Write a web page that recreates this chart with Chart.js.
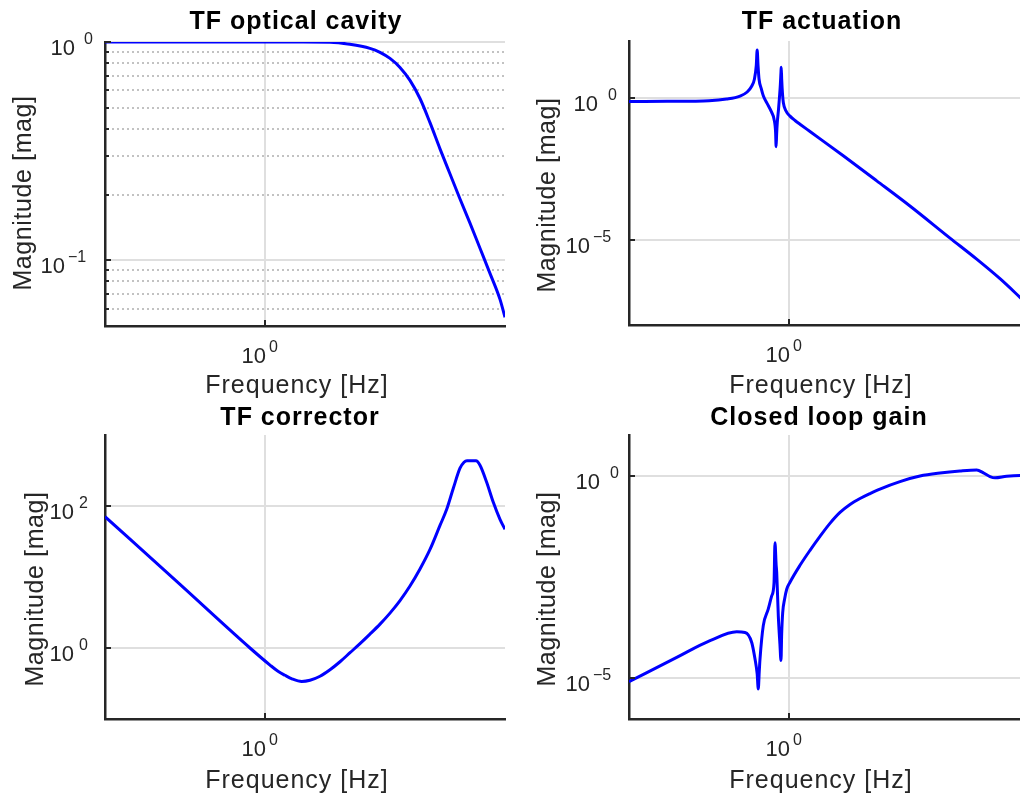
<!DOCTYPE html>
<html>
<head>
<meta charset="utf-8">
<script src="https://cdn.jsdelivr.net/npm/chart.js@4.4.1/dist/chart.umd.min.js"></script>
<style>
  html, body { margin: 0; padding: 0; overflow: hidden; background: #ffffff; width: 1020px; height: 798px; }
  .pane { position: absolute; }
  canvas { display: block; }
</style>
</head>
<body>
<div class="pane" style="left:0px;top:0px"><canvas id="c1" width="510" height="400"></canvas></div>
<div class="pane" style="left:510px;top:0px"><canvas id="c2" width="530" height="400"></canvas></div>
<div class="pane" style="left:0px;top:400px"><canvas id="c3" width="510" height="398"></canvas></div>
<div class="pane" style="left:510px;top:400px"><canvas id="c4" width="530" height="398"></canvas></div>
<script>
// ---------------- data ----------------
const titles = ['TF optical cavity', 'TF actuation', 'TF corrector', 'Closed loop gain'];
const xLabel = 'Frequency [Hz]';
const yLabel = 'Magnitude [mag]';

const xRange = [0.01, 1000];
const xTicks = [1];

// TF optical cavity
const cavityFreq = [0.01, 0.1, 1, 3, 6.49, 11.5, 20.5, 27.4, 36.5, 48.7, 64.9, 86.6, 115.5, 154, 205, 274, 365, 487, 649, 866, 1000];
const cavityMag  = [1, 1, 1, 1, 0.998, 0.976, 0.935, 0.897, 0.841, 0.765, 0.667, 0.551, 0.427, 0.324, 0.249, 0.191, 0.148, 0.1135, 0.0871, 0.0662, 0.0548];
const cavityYRange = [0.05, 1];
const cavityYTicks = [0.1, 1];
const cavityMinorTicks = [0.06, 0.07, 0.08, 0.09, 0.2, 0.3, 0.4, 0.5, 0.6, 0.7, 0.8, 0.9];

// TF actuation
const actFreq = [0.01, 0.03, 0.06, 0.1, 0.166, 0.244, 0.30, 0.34, 0.37, 0.39, 0.40, 0.41, 0.422, 0.45, 0.477, 0.53, 0.608, 0.65, 0.68, 0.69, 0.70, 0.714, 0.74, 0.757, 0.78, 0.795, 0.80, 0.81, 0.83, 0.849, 0.92, 1.03, 1.19, 1.372, 1.83, 4.77, 12.5, 32.5, 103, 222, 434, 772, 1000];
const actMag  = [0.746, 0.75, 0.76, 0.78, 0.9, 1.15, 1.6, 2.5, 4.6, 14, 48, 14, 4.6, 2.1, 1.18, 0.65, 0.305, 0.177, 0.061, 0.019, 0.05, 0.135, 0.4, 0.9, 3.0, 8.8, 11.9, 4.6, 1.35, 0.687, 0.34, 0.226, 0.159, 0.1177, 0.065, 9.07e-3, 1.19e-3, 1.55e-4, 1.15e-5, 2.08e-6, 4.26e-7, 9.4e-8, 4.7e-8];
const actYRange = [1e-8, 100];
const actYTicks = [1e-5, 1];

// TF corrector
const corrFreq = [0.01, 0.0866, 0.649, 1.155, 1.454, 1.778, 2.175, 2.876, 3.65, 4.87, 6.49, 8.66, 11.55, 15.4, 20.5, 27.4, 36.5, 48.7, 64.9, 86.6, 115.5, 154, 186.7, 225.9, 273.8, 307.3, 335, 434, 487, 590, 714, 866, 1000];
const corrMag  = [70.8, 7.86, 1.0, 0.575, 0.47, 0.413, 0.368, 0.3375, 0.3509, 0.3996, 0.4937, 0.6405, 0.8583, 1.150, 1.566, 2.169, 3.101, 4.656, 7.464, 12.97, 24.45, 53.3, 89.8, 177.8, 340.7, 414, 434.8, 434.8, 375.6, 216.3, 112.7, 64.9, 46.9];
const corrYRange = [0.1, 1000];
const corrYTicks = [1, 100];

// Closed loop gain
const clFreq = [0.01, 0.0395, 0.103, 0.222, 0.282, 0.342, 0.376, 0.40, 0.413, 0.425, 0.434, 0.477, 0.55, 0.608, 0.65, 0.668, 0.69, 0.702, 0.735, 0.77, 0.794, 0.81, 0.834, 0.88, 0.936, 1.029, 1.372, 1.83, 2.44, 3.25, 4.34, 5.79, 7.72, 10.3, 13.7, 24.4, 43.4, 77.2, 137, 222, 269, 325, 376, 525, 772, 1000];
const clMag  = [8.3e-6, 3.3e-5, 8.5e-5, 1.41e-4, 1.36e-4, 7.7e-5, 3.0e-5, 1.29e-5, 5.5e-6, 1.5e-5, 3.0e-5, 2.0e-4, 5.1e-4, 1.08e-3, 2.3e-3, 0.022, 6.5e-3, 4.1e-3, 3.5e-4, 7.0e-5, 2.75e-5, 1.25e-4, 4.2e-4, 8.9e-4, 1.58e-3, 2.35e-3, 6.15e-3, 0.01436, 0.0317, 0.0662, 0.1233, 0.1938, 0.272, 0.361, 0.466, 0.712, 0.972, 1.152, 1.29, 1.365, 1.165, 0.945, 0.878, 0.961, 1.0, 1.0];
const clYRange = [1e-6, 10];
const clYTicks = [1e-5, 1];

// ---------------- styling helpers ----------------
const INK = '#262626';
const GRID = '#dfdfdf';
const LINE_BLUE = '#0000ff';
const FONT = '"Liberation Sans", Arial, Helvetica, sans-serif';

function line(ctx, x1, y1, x2, y2) { ctx.beginPath(); ctx.moveTo(x1, y1); ctx.lineTo(x2, y2); ctx.stroke(); }
function spacing(ctx, v) { if ('letterSpacing' in ctx) ctx.letterSpacing = v; }
function expText(e) { return e < 0 ? '\u2212' + String(-e) : String(e); }

const decor = {
  id: 'decor',
  beforeDatasetsDraw(chart, args, o) {
    const { ctx, chartArea: a } = chart;
    const y = chart.scales.y;
    if (o.minor) {
      ctx.save();
      ctx.strokeStyle = '#c2c2c2';
      ctx.lineWidth = 2;
      ctx.setLineDash([2, 3]);
      o.minor.forEach(v => {
        const py = Math.round(y.getPixelForValue(v));
        line(ctx, a.left + 2, py, a.right, py);
      });
      ctx.restore();
    }
  },
  afterDraw(chart, args, o) {
    const { ctx, chartArea: a } = chart;
    const x = chart.scales.x, y = chart.scales.y;
    ctx.save();
    ctx.strokeStyle = INK;
    ctx.fillStyle = INK;
    ctx.lineWidth = 2;
    // inward tick marks
    y.ticks.forEach(t => {
      const py = Math.round(y.getPixelForValue(t.value));
      line(ctx, a.left, py, a.left + 6, py);
    });
    if (o.minor) o.minor.forEach(v => {
      const py = Math.round(y.getPixelForValue(v));
      line(ctx, a.left, py, a.left + 4, py);
    });
    x.ticks.forEach(t => {
      const px = Math.round(x.getPixelForValue(t.value));
      line(ctx, px, a.bottom, px, a.bottom - 6);
    });
    // tick labels 10^n
    const big = '22px ' + FONT, small = '16px ' + FONT;
    ctx.textBaseline = 'alphabetic';
    y.ticks.forEach(t => {
      const e = Math.round(Math.log10(t.value));
      const py = y.getPixelForValue(t.value);
      const tenRight = a.left - (e < 0 ? o.tenNeg : o.tenPos);
      ctx.font = big; ctx.textAlign = 'right';
      ctx.fillText('10', tenRight, py + 13);
      ctx.font = small; ctx.textAlign = 'left';
      ctx.fillText(expText(e), tenRight + (e < 0 ? 3 : o.expGap), py + 2);
    });
    x.ticks.forEach(t => {
      const e = Math.round(Math.log10(t.value));
      const px = x.getPixelForValue(t.value);
      ctx.font = big; ctx.textAlign = 'right';
      ctx.fillText('10', px + 1, a.bottom + 37);
      ctx.font = small; ctx.textAlign = 'left';
      ctx.fillText(expText(e), px + 4, a.bottom + 26);
    });
    // title
    ctx.fillStyle = '#000000';
    ctx.font = 'bold 25px ' + FONT;
    ctx.textAlign = 'center';
    spacing(ctx, '1px');
    ctx.fillText(o.title, o.titleX, o.titleY);
    // x label
    ctx.fillStyle = INK;
    ctx.font = '25px ' + FONT;
    ctx.fillText(xLabel, o.xlabelX, o.xlabelY);
    // y label
    spacing(ctx, '0.6px');
    ctx.translate(o.ylabelX, o.ylabelY);
    ctx.rotate(-Math.PI / 2);
    ctx.fillText(yLabel, 0, 0);
    spacing(ctx, '0px');
    ctx.restore();
  }
};

function makeChart(id, freq, mag, yRange, yTicks, area, deco) {
  const canvas = document.getElementById(id);
  const W = canvas.width, H = canvas.height;
  const pts = freq.map((f, i) => ({ x: f, y: mag[i] }));
  return new Chart(canvas, {
    type: 'line',
    data: { datasets: [{
      data: pts,
      borderColor: LINE_BLUE,
      borderWidth: 3,
      pointRadius: 0,
      cubicInterpolationMode: 'monotone',
      fill: false
    }] },
    options: {
      responsive: false,
      animation: false,
      devicePixelRatio: 1,
      events: [],
      layout: { padding: { left: 0, right: W - area.right, top: area.top, bottom: 0 } },
      plugins: { legend: { display: false }, tooltip: { enabled: false }, title: { display: false }, decor: deco },
      scales: {
        x: {
          type: 'logarithmic', min: xRange[0], max: xRange[1],
          afterBuildTicks: s => { s.ticks = xTicks.map(v => ({ value: v })); },
          afterFit: s => { s.height = H - area.bottom; },
          ticks: { display: false },
          grid: { color: GRID, lineWidth: 2, drawTicks: false },
          border: { display: true, color: INK, width: 2.5 }
        },
        y: {
          type: 'logarithmic', min: yRange[0], max: yRange[1],
          afterBuildTicks: s => { s.ticks = yTicks.map(v => ({ value: v })); },
          afterFit: s => { s.width = area.left; },
          ticks: { display: false },
          grid: { color: GRID, lineWidth: 2, drawTicks: false },
          border: { display: true, color: INK, width: 2.5 }
        }
      }
    },
    plugins: [decor]
  });
}

makeChart('c1', cavityFreq, cavityMag, cavityYRange, cavityYTicks,
  { left: 105, right: 505, top: 42, bottom: 326 },
  { title: titles[0], titleX: 296, titleY: 29, xlabelX: 297, xlabelY: 393, ylabelX: 31, ylabelY: 193, minor: cavityMinorTicks, tenPos: 30, tenNeg: 40, expGap: 9 });
makeChart('c2', actFreq, actMag, actYRange, actYTicks,
  { left: 119, right: 519, top: 41, bottom: 325 },
  { title: titles[1], titleX: 312, titleY: 29, xlabelX: 311, xlabelY: 393, ylabelX: 45, ylabelY: 195, tenPos: 31, tenNeg: 39, expGap: 10 });
makeChart('c3', corrFreq, corrMag, corrYRange, corrYTicks,
  { left: 105, right: 505, top: 35, bottom: 319 },
  { title: titles[2], titleX: 300, titleY: 25, xlabelX: 297, xlabelY: 388, ylabelX: 43, ylabelY: 189, tenPos: 31, tenNeg: 39, expGap: 5 });
makeChart('c4', clFreq, clMag, clYRange, clYTicks,
  { left: 119, right: 519, top: 35, bottom: 319 },
  { title: titles[3], titleX: 309, titleY: 25, xlabelX: 311, xlabelY: 388, ylabelX: 45, ylabelY: 189, tenPos: 29, tenNeg: 39, expGap: 10 });
</script>
</body>
</html>
